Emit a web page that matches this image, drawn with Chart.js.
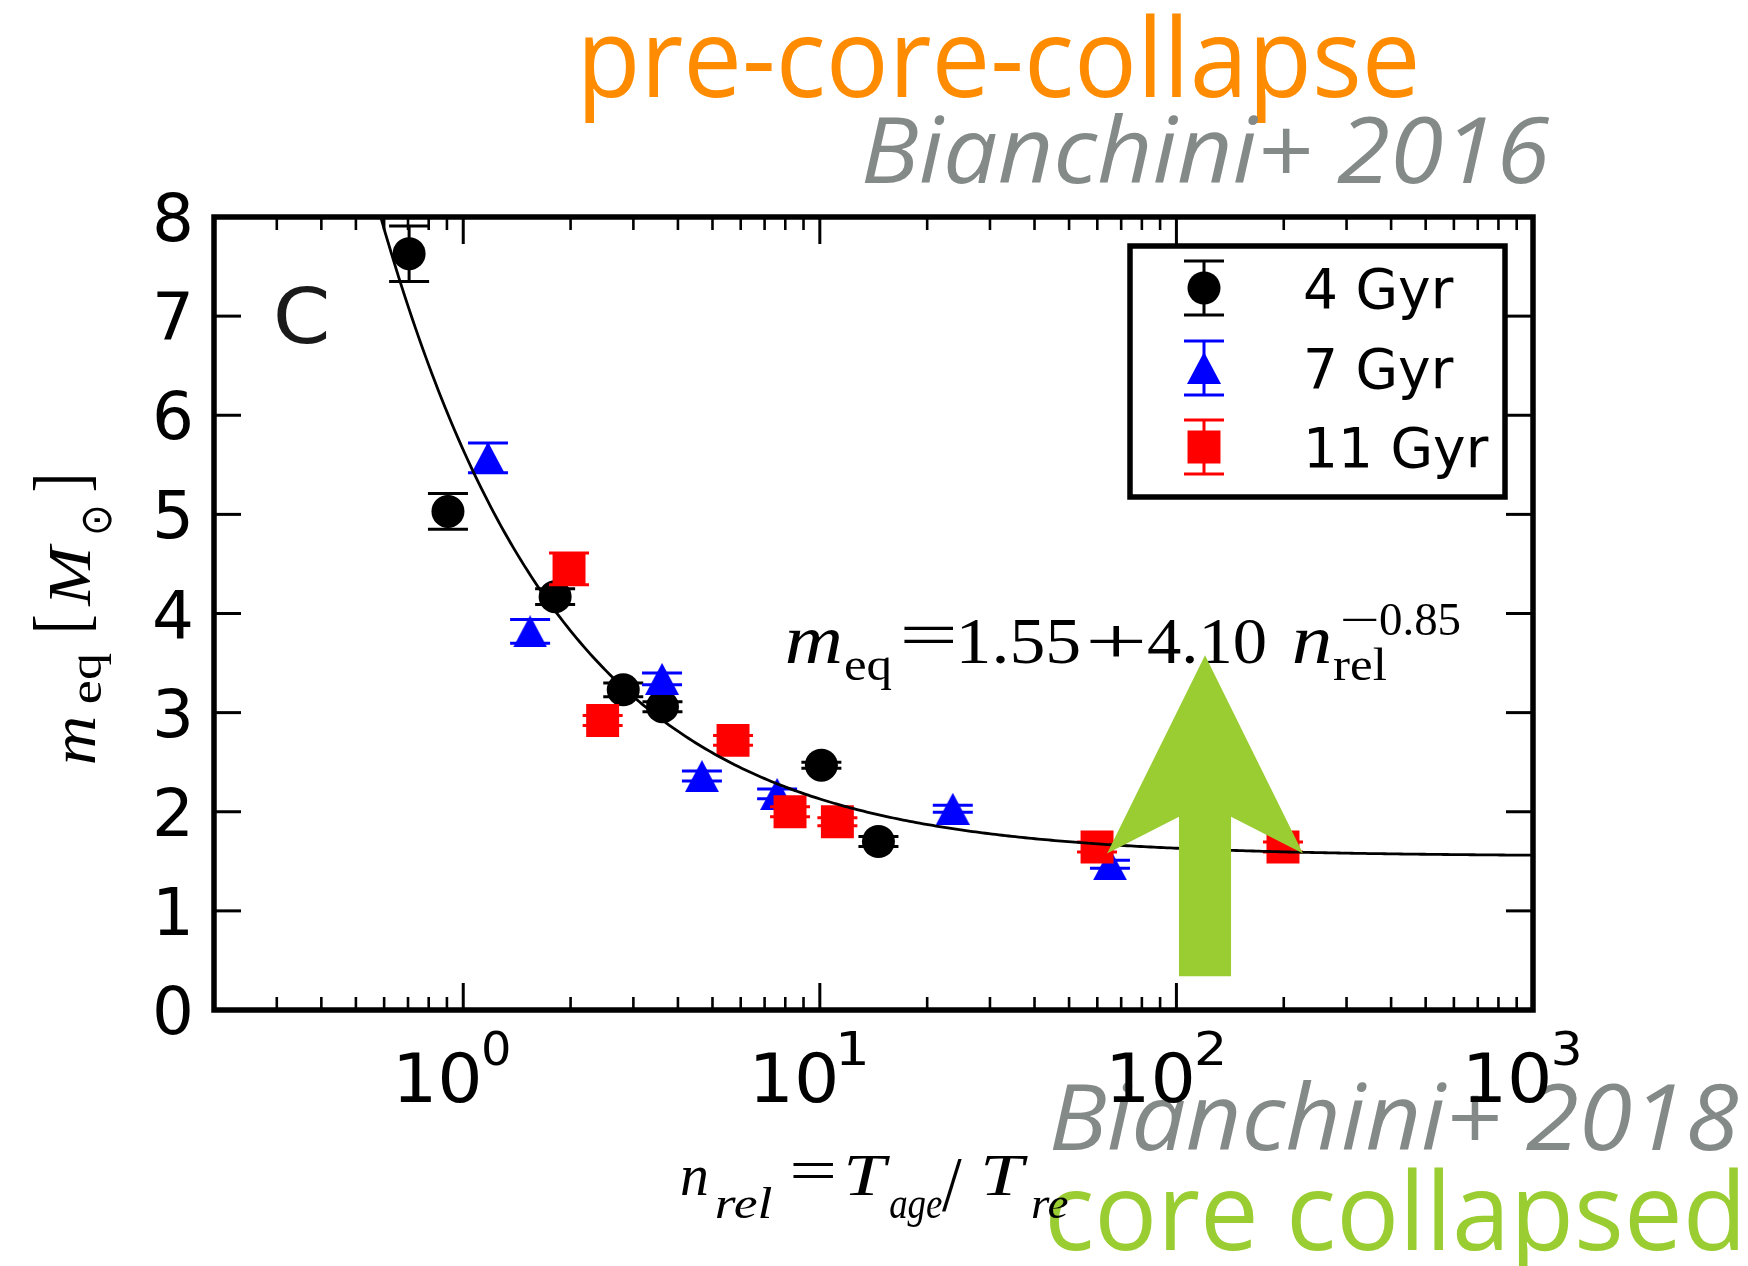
<!DOCTYPE html>
<html>
<head>
<meta charset="utf-8">
<script src="https://cdn.jsdelivr.net/npm/chart.js@4.4.0/dist/chart.umd.min.js"></script>
<style>
  html, body { margin: 0; padding: 0; background: #fff; overflow: hidden; }
  canvas { display: block; }
</style>
</head>
<body>
<canvas id="c" width="1748" height="1266"></canvas>
<script>
// ---- Equilibrium mass m_eq versus relaxation number n_rel, per cluster age ----
const ageLabels = ['4 Gyr', '7 Gyr', '11 Gyr'];

const nrel4  = [0.705, 0.906, 1.81, 2.81, 3.62, 10.1, 14.6];
const meq4   = [7.63, 5.03, 4.17, 3.23, 3.06, 2.47, 1.70];
const err4   = [0.28, 0.18, 0.08, 0.07, 0.05, 0.03, 0.05];

const nrel7  = [1.173, 1.54, 3.61, 4.67, 7.59, 23.6, 65.1];
const meq7   = [5.57, 3.82, 3.34, 2.36, 2.18, 2.03, 1.47];
const err7   = [0.15, 0.12, 0.06, 0.05, 0.05, 0.035, 0.04];

const nrel11 = [1.98, 2.46, 5.71, 8.25, 11.2, 59.9, 199];
const meq11  = [4.45, 2.92, 2.72, 2.00, 1.90, 1.645, 1.645];
const err11  = [0.16, 0.05, 0.05, 0.05, 0.04, 0.05, 0.05];

// Fit quoted on the panel: m_eq = 1.55 + 4.10 n_rel^-0.85
const fitOffset = 1.55;
const fitAmp = 4.10;
const fitIndex = -0.85;

// Axis ticks
const xDecades = [0, 1, 2, 3];          // labelled as 10^k
const xMinorSteps = [2, 3, 4, 5, 6, 7, 8, 9];
const yTicks = [0, 1, 2, 3, 4, 5, 6, 7, 8];

// Green "core collapsed" arrow outline, in (n_rel, m_eq) units
const arrowN = [120.3, 226.5, 142.3, 142.3, 101.7, 101.7, 63.9];
const arrowM = [3.58, 1.58, 1.95, 0.34, 0.34, 1.95, 1.58];

// ---------------------------------------------------------------------------
const toPoints = (xs, ys) => xs.map((v, i) => ({ x: v, y: ys[i] }));

// sample the fit on a log grid across the axis range
const fitPoints = [];
for (let i = 0; i <= 400; i++) {
  const n = Math.pow(10, Math.log10(0.2) + i * (Math.log10(1000) - Math.log10(0.2)) / 400);
  fitPoints.push({ x: n, y: fitOffset + fitAmp * Math.pow(n, fitIndex) });
}

// matplotlib-style '^' marker: isosceles, as tall as it is wide
const triMarker = document.createElement('canvas');
triMarker.width = 34; triMarker.height = 32;
(function () {
  const t = triMarker.getContext('2d');
  t.fillStyle = '#0000ff';
  t.beginPath(); t.moveTo(17, 0); t.lineTo(34, 32); t.lineTo(0, 32); t.closePath(); t.fill();
})();

const SERIF = '"Liberation Serif", "Times New Roman", serif';
const SANS = '"DejaVu Sans", sans-serif';
const SLIDE = '"Open Sans", "Noto Sans", sans-serif';

// Draw text so that its ink spans [x0, x1] on the given baseline
function put(ctx, text, font, color, x0, x1, baseline) {
  ctx.save();
  ctx.font = font;
  ctx.fillStyle = color;
  ctx.textAlign = 'left';
  ctx.textBaseline = 'alphabetic';
  const m = ctx.measureText(text);
  const il = -m.actualBoundingBoxLeft, ir = m.actualBoundingBoxRight;
  const s = (x1 - x0) / (ir - il);
  ctx.translate(x0, baseline);
  ctx.scale(s, 1);
  ctx.fillText(text, -il, 0);
  ctx.restore();
}
// Same, rotated to read bottom-to-top: ink from screen y yBot up to yTop, baseline at screen x bx
function putUp(ctx, text, font, color, yBot, yTop, bx) {
  ctx.save();
  ctx.font = font;
  ctx.fillStyle = color;
  ctx.textAlign = 'left';
  ctx.textBaseline = 'alphabetic';
  const m = ctx.measureText(text);
  const il = -m.actualBoundingBoxLeft, ir = m.actualBoundingBoxRight;
  const s = (yBot - yTop) / (ir - il);
  ctx.translate(bx, yBot);
  ctx.rotate(-Math.PI / 2);
  ctx.scale(s, 1);
  ctx.fillText(text, -il, 0);
  ctx.restore();
}

const ERR_CAP = 20;
function drawErrorBar(ctx, px, pTop, pBot, color) {
  ctx.save();
  ctx.strokeStyle = color;
  ctx.lineWidth = 3;
  ctx.lineCap = 'butt';
  ctx.beginPath();
  ctx.moveTo(px, pTop); ctx.lineTo(px, pBot);
  ctx.moveTo(px - ERR_CAP, pTop); ctx.lineTo(px + ERR_CAP, pTop);
  ctx.moveTo(px - ERR_CAP, pBot); ctx.lineTo(px + ERR_CAP, pBot);
  ctx.stroke();
  ctx.restore();
}

// Slide captions, background layer (the plot sits on top of them)
const backdropPlugin = {
  id: 'backdrop',
  beforeDraw(chart) {
    const ctx = chart.ctx;
    ctx.save();
    ctx.fillStyle = '#ffffff';
    ctx.fillRect(0, 0, chart.width, chart.height);
    ctx.restore();
    put(ctx, 'pre-core-collapse', '110px ' + SLIDE, '#ff8c00', 585, 1416, 97);
    put(ctx, 'Bianchini+ 2016', 'italic 92px ' + SLIDE, '#848a87', 864, 1550, 183);
    put(ctx, 'Bianchini+ 2018', 'italic 92px ' + SLIDE, '#848a87', 1052, 1738, 1150);
    put(ctx, 'core collapsed', '108px ' + SLIDE, '#9acd32', 1050, 1738, 1250);
  }
};

// Error bars drawn just before each dataset's markers
const errorBarPlugin = {
  id: 'errorBars',
  beforeDatasetDraw(chart, args) {
    const ds = chart.data.datasets[args.index];
    if (!ds.errors) return;
    const { x, y } = chart.scales;
    ds.data.forEach((p, i) => {
      const e = ds.errors[i];
      drawErrorBar(chart.ctx, x.getPixelForValue(p.x), y.getPixelForValue(p.y + e),
                   y.getPixelForValue(p.y - e), ds.barColor);
    });
  }
};

// Frame, inward ticks, tick labels, axis titles, panel text and legend
const axesPlugin = {
  id: 'axesFrame',
  afterDatasetsDraw(chart) {
    const ctx = chart.ctx;
    const a = chart.chartArea;
    const { x, y } = chart.scales;
    const MAJOR = 27, MINOR = 13;
    ctx.save();
    ctx.strokeStyle = '#000';
    ctx.lineCap = 'butt';
    const seg = (x0, y0, x1, y1) => { ctx.beginPath(); ctx.moveTo(x0, y0); ctx.lineTo(x1, y1); ctx.stroke(); };

    ctx.lineWidth = 3;
    yTicks.forEach(v => {
      const py = y.getPixelForValue(v);
      seg(a.left, py, a.left + MAJOR, py);
      seg(a.right, py, a.right - MAJOR, py);
    });
    xDecades.forEach(k => {
      const px = x.getPixelForValue(Math.pow(10, k));
      ctx.lineWidth = 3;
      seg(px, a.bottom, px, a.bottom - MAJOR);
      seg(px, a.top, px, a.top + MAJOR);
      ctx.lineWidth = 2.6;
      xMinorSteps.forEach(s => {
        const v = s * Math.pow(10, k - 1);
        if (v < x.min || v > x.max) return;
        const pm = x.getPixelForValue(v);
        seg(pm, a.bottom, pm, a.bottom - MINOR);
        seg(pm, a.top, pm, a.top + MINOR);
      });
    });

    ctx.lineWidth = 5.5;
    ctx.strokeRect(a.left, a.top, a.right - a.left, a.bottom - a.top);
    ctx.restore();

    // y tick labels
    ctx.save();
    ctx.font = '66px ' + SANS;
    ctx.fillStyle = '#000';
    ctx.textAlign = 'right';
    ctx.textBaseline = 'alphabetic';
    yTicks.forEach(v => {
      ctx.fillText(String(v), a.left - 20, y.getPixelForValue(v) + 0.365 * 66);
    });
    ctx.restore();

    // x tick labels: 10^k
    xDecades.forEach(k => {
      const px = x.getPixelForValue(Math.pow(10, k));
      put(ctx, '10', '68px ' + SANS, '#000', px - 64, px + 15, 1102);
      put(ctx, String(k), '46px ' + SANS, '#000', px + 21, px + 46, 1065);
    });

    // x axis title: n_rel = T_age / T_re
    put(ctx, 'n', 'italic 60px ' + SERIF, '#000', 682, 707, 1195);
    put(ctx, 'rel', 'italic 44px ' + SERIF, '#000', 716, 772, 1218);
    put(ctx, '=', '60px ' + SERIF, '#000', 792, 833, 1190);
    put(ctx, 'T', 'italic 60px ' + SERIF, '#000', 847, 890, 1195);
    put(ctx, 'age', 'italic 44px ' + SERIF, '#000', 890, 942, 1218);
    put(ctx, '/', '78px ' + SERIF, '#000', 942, 962, 1210);
    put(ctx, 'T', 'italic 60px ' + SERIF, '#000', 984, 1028, 1195);
    put(ctx, 're', 'italic 44px ' + SERIF, '#000', 1032, 1068, 1218);

    // y axis title: m_eq [M_sun]
    putUp(ctx, 'm', 'italic 64px ' + SERIF, '#000', 763, 718, 95);
    putUp(ctx, 'eq', '46px ' + SERIF, '#000', 703, 653, 101);
    putUp(ctx, '[', '76px ' + SERIF, '#000', 630, 616, 86);
    putUp(ctx, 'M', 'italic 62px ' + SERIF, '#000', 607, 543, 90);
    putUp(ctx, '\u2299', '44px ' + SERIF, '#000', 533, 508, 111);
    putUp(ctx, ']', '76px ' + SERIF, '#000', 491, 477, 86);

    // panel letter
    put(ctx, 'C', '76px ' + SANS, '#1a1a1a', 277, 326, 343);

    // fit relation
    put(ctx, 'm', 'italic 70px ' + SERIF, '#000', 787, 840, 663);
    put(ctx, 'eq', '46px ' + SERIF, '#000', 845, 892, 680);
    put(ctx, '=', '66px ' + SERIF, '#000', 904, 953, 657);
    put(ctx, '1.55', '66px ' + SERIF, '#000', 961, 1079, 663);
    put(ctx, '+', '66px ' + SERIF, '#000', 1090, 1142, 663);
    put(ctx, '4.10', '66px ' + SERIF, '#000', 1148, 1265, 663);
    put(ctx, 'n', 'italic 70px ' + SERIF, '#000', 1294, 1330, 663);
    put(ctx, 'rel', '46px ' + SERIF, '#000', 1333, 1386, 680);
    put(ctx, '\u2212', '46px ' + SERIF, '#000', 1343, 1377, 635);
    put(ctx, '0.85', '46px ' + SERIF, '#000', 1380, 1460, 635);

    // legend
    const L = { x0: 1130, y0: 246, x1: 1505, y1: 497 };
    ctx.save();
    ctx.fillStyle = '#fff';
    ctx.fillRect(L.x0, L.y0, L.x1 - L.x0, L.y1 - L.y0);
    ctx.strokeStyle = '#000';
    ctx.lineWidth = 5.5;
    ctx.strokeRect(L.x0, L.y0, L.x1 - L.x0, L.y1 - L.y0);
    ctx.restore();
    const rows = [288, 368, 447];
    const order = [3, 2, 1]; // dataset indices for 4, 7, 11 Gyr
    order.forEach((di, r) => {
      const ds = chart.data.datasets[di];
      const cy = rows[r];
      drawErrorBar(ctx, 1204, cy - 27, cy + 27, ds.barColor);
      ctx.save();
      ctx.fillStyle = ds.pointBackgroundColor;
      Chart.helpers.drawPoint(ctx, { pointStyle: ds.pointStyle, radius: ds.pointRadius, borderWidth: 0, rotation: 0 }, 1204, cy);
      ctx.restore();
      ctx.save();
      ctx.font = '55px ' + SANS;
      ctx.fillStyle = '#000';
      ctx.textBaseline = 'alphabetic';
      ctx.fillText(ds.label, 1303, cy + 20);
      ctx.restore();
    });
  },
  afterDraw(chart) {
    // arrow pointing up from the core-collapsed caption
    const ctx = chart.ctx;
    const { x, y } = chart.scales;
    ctx.save();
    ctx.fillStyle = '#9acd32';
    ctx.beginPath();
    arrowN.forEach((n, i) => {
      const px = x.getPixelForValue(n), py = y.getPixelForValue(arrowM[i]);
      if (i === 0) ctx.moveTo(px, py); else ctx.lineTo(px, py);
    });
    ctx.closePath();
    ctx.fill();
    ctx.restore();
  }
};

new Chart(document.getElementById('c'), {
  type: 'scatter',
  data: {
    datasets: [
      {
        label: 'fit', data: fitPoints, showLine: true, borderColor: '#000', borderWidth: 2.8,
        pointRadius: 0, tension: 0, fill: false, order: 0
      },
      {
        label: ageLabels[2], data: toPoints(nrel11, meq11), errors: err11, barColor: '#ff0000',
        pointStyle: 'rect', pointRadius: 23.3, pointBackgroundColor: '#ff0000', pointBorderWidth: 0, order: 1
      },
      {
        label: ageLabels[1], data: toPoints(nrel7, meq7), errors: err7, barColor: '#0000ff',
        pointStyle: triMarker, pointRadius: 17, pointBackgroundColor: '#0000ff', pointBorderWidth: 0, order: 2
      },
      {
        label: ageLabels[0], data: toPoints(nrel4, meq4), errors: err4, barColor: '#000000',
        pointStyle: 'circle', pointRadius: 16.5, pointBackgroundColor: '#000000', pointBorderWidth: 0, order: 3
      }
    ]
  },
  options: {
    responsive: false,
    animation: false,
    devicePixelRatio: 1,
    layout: { padding: { left: 214, top: 217, right: 215, bottom: 256 } },
    scales: {
      x: { type: 'logarithmic', min: 0.2, max: 1000, display: false },
      y: { type: 'linear', min: 0, max: 8, display: false }
    },
    plugins: { legend: { display: false }, tooltip: { enabled: false } },
    events: []
  },
  plugins: [backdropPlugin, errorBarPlugin, axesPlugin]
});
</script>
</body>
</html>
